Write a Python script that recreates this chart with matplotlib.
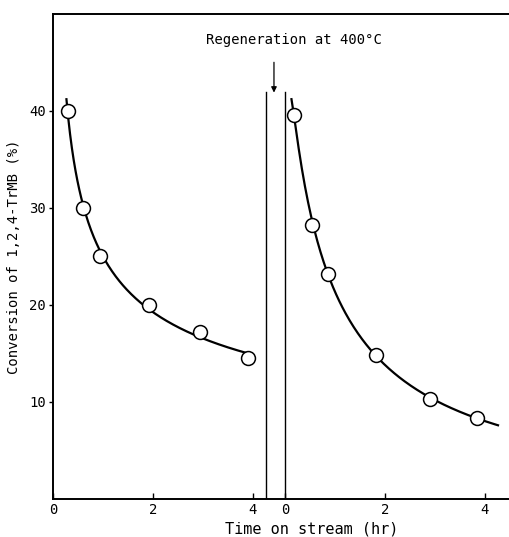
import numpy as np
import matplotlib
matplotlib.use("Agg")
import matplotlib.pyplot as plt

plt.rcParams['font.family'] = ['DejaVu Sans Mono']

# first run (fresh catalyst)
t_first = [0.3, 0.6, 0.94, 1.92, 2.94, 3.9]
conv_first = [40.0, 30.0, 25.0, 20.0, 17.2, 14.5]

# second run (after regeneration)
t_second = [0.18, 0.55, 0.87, 1.83, 2.9, 3.85]
conv_second = [39.6, 28.2, 23.2, 14.8, 10.3, 8.3]

# where the second time axis starts, and the regeneration gap
offset = 4.64
gap_lines = [4.27, 4.64]
tick_hours = [0, 2, 4]

fig = plt.figure(figsize=(5.09, 5.37), dpi=100)
ax = fig.add_axes([0.104, 0.0715, 0.896, 0.9025])


def trend(t, y, t0, t1):
    # smooth trend line through the points (quadratic in log-log)
    c = np.polyfit(np.log(t), np.log(y), 2)
    tt = np.linspace(t0, t1, 200)
    return tt, np.exp(np.polyval(c, np.log(tt)))


tt, yy = trend(t_first, conv_first, 0.27, 3.9)
ax.plot(tt, yy, color="black", lw=1.6, zorder=2)
tt, yy = trend(t_second, conv_second, 0.13, 4.26)
ax.plot(tt + offset, yy, color="black", lw=1.6, zorder=2)

ax.plot(t_first, conv_first, "o", ms=10, mfc="white", mec="black", mew=1.1, zorder=3)
ax.plot(np.array(t_second) + offset, conv_second, "o", ms=10, mfc="white",
        mec="black", mew=1.1, zorder=3)

for x in gap_lines:
    ax.plot([x, x], [0, 42], color="black", lw=1.0)

ax.annotate("", xy=(4.42, 41.6), xytext=(4.42, 45.3),
            arrowprops=dict(arrowstyle="-|>", color="black", lw=0.9,
                            mutation_scale=8))
ax.text(4.82, 47.3, "Regeneration at 400°C", ha="center", va="center", fontsize=10)

ax.set_xlim(0, 9.12)
ax.set_ylim(0, 50)
ax.set_xticks(tick_hours + [h + offset for h in tick_hours])
ax.set_xticklabels([str(h) for h in tick_hours] * 2, fontsize=10)
ax.set_yticks([10, 20, 30, 40])
ax.set_yticklabels(["10", "20", "30", "40"], fontsize=10)
ax.tick_params(axis="x", direction="in", length=4, width=1, pad=3)
ax.tick_params(axis="y", direction="out", length=3, width=1, pad=2)

ax.spines["right"].set_visible(False)
for s in ["left", "bottom", "top"]:
    ax.spines[s].set_linewidth(1.4)

ax.set_xlabel("Time on stream (hr)", fontsize=11, va="center")
ax.xaxis.set_label_coords(0.568, -0.062)
ax.set_ylabel("Conversion of 1,2,4-TrMB (%)", fontsize=10, labelpad=6)

fig.savefig("out.png", dpi=100)
